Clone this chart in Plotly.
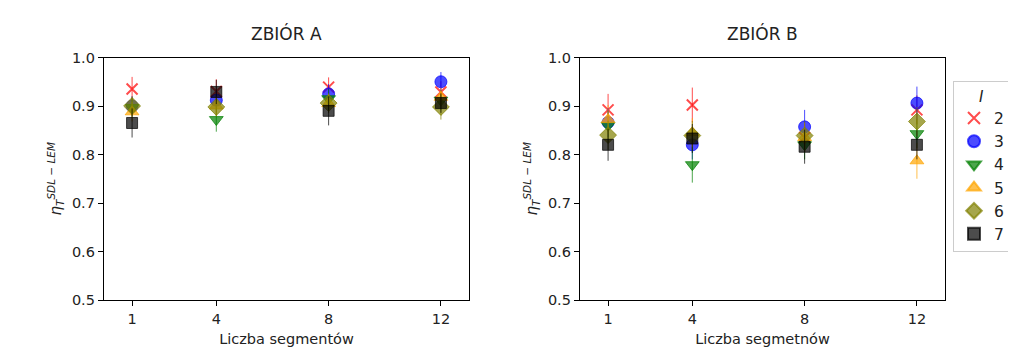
import plotly.graph_objects as go

segments = [1, 4, 8, 12]
series_I = ["2", "3", "4", "5", "6", "7"]

# ZBIÓR A values per I (x = 1, 4, 8, 12)
A_vals = {
    "2": [0.935, 0.930, 0.939, 0.929],
    "3": [0.900, 0.912, 0.925, 0.950],
    "4": [0.897, 0.872, 0.915, 0.912],
    "5": [0.888, 0.900, 0.905, 0.918],
    "6": [0.900, 0.898, 0.906, 0.898],
    "7": [0.865, 0.929, 0.890, 0.906],
}
A_err = {
    "2": [0.025, 0.025, 0.020, 0.022],
    "3": [0.020, 0.020, 0.020, 0.020],
    "4": [0.020, 0.025, 0.020, 0.020],
    "5": [0.020, 0.020, 0.020, 0.020],
    "6": [0.020, 0.020, 0.020, 0.026],
    "7": [0.030, 0.025, 0.030, 0.020],
}
# ZBIÓR B
B_vals = {
    "2": [0.892, 0.902, 0.835, 0.892],
    "3": [0.866, 0.820, 0.857, 0.906],
    "4": [0.860, 0.779, 0.820, 0.843],
    "5": [0.872, 0.845, 0.835, 0.787],
    "6": [0.840, 0.839, 0.839, 0.868],
    "7": [0.820, 0.833, 0.816, 0.820],
}
B_err = {
    "2": [0.033, 0.036, 0.030, 0.030],
    "3": [0.030, 0.030, 0.035, 0.034],
    "4": [0.030, 0.037, 0.030, 0.030],
    "5": [0.030, 0.030, 0.030, 0.037],
    "6": [0.030, 0.030, 0.030, 0.030],
    "7": [0.033, 0.030, 0.035, 0.030],
}

colors = {"2": "255,0,0", "3": "0,0,255", "4": "0,128,0",
          "5": "255,165,0", "6": "128,128,0", "7": "0,0,0"}
symbols = {"2": "x-thin", "3": "circle", "4": "triangle-down",
           "5": "triangle-up", "6": "diamond", "7": "square"}
sizes = {"2": 11, "3": 12, "4": 12, "5": 12, "6": 13, "7": 11}
alpha = 0.7

fig = go.Figure()
font = "DejaVu Sans, sans-serif"

for panel, (vals, errs, xa, ya) in enumerate([(A_vals, A_err, "x", "y"),
                                             (B_vals, B_err, "x2", "y2")]):
    for s in series_I:
        c = colors[s]
        if s == "2":
            marker = dict(symbol=symbols[s], size=sizes[s], color=f"rgba({c},{alpha})",
                          line=dict(color=f"rgba({c},{alpha})", width=2))
        else:
            marker = dict(symbol=symbols[s], size=sizes[s], color=f"rgba({c},{alpha})",
                          line=dict(color=f"rgba({c},{alpha})", width=1))
        fig.add_trace(go.Scatter(
            x=segments, y=vals[s], mode="markers", name=s,
            xaxis=xa, yaxis=ya, marker=marker,
            error_y=dict(type="data", array=errs[s], visible=True,
                         color=f"rgba({c},{alpha})", thickness=1, width=0),
            showlegend=(panel == 1),
        ))

axis_common = dict(showline=True, linecolor="black", linewidth=1.3, mirror=True,
                   ticks="outside", ticklen=5, tickwidth=1, tickcolor="black",
                   showgrid=False, zeroline=False,
                   tickfont=dict(family=font, size=14.5, color="#222"))

ytitle = "<i>η</i><sub><i>T</i></sub><sup><i>SDL − LEM</i></sup>"

fig.update_layout(
    width=1016, height=356,
    margin=dict(l=0, r=0, t=0, b=0, autoexpand=False),
    plot_bgcolor="white", paper_bgcolor="white",
    font=dict(family=font, color="#222"),
    xaxis=dict(domain=[96/1016, 461/1016], range=[0, 13], tickvals=segments,
               title=dict(text="Liczba segmentów", font=dict(size=14.5), standoff=8),
               anchor="y", **axis_common),
    yaxis=dict(domain=[1-292/356, 1-49.5/356], range=[0.5, 1.0],
               tickvals=[0.5, 0.6, 0.7, 0.8, 0.9, 1.0], ticktext=["0.5", "0.6", "0.7", "0.8", "0.9", "1.0"],
               title=dict(text=ytitle, font=dict(size=15), standoff=6),
               anchor="x", **axis_common),
    xaxis2=dict(domain=[572/1016, 937/1016], range=[0, 13], tickvals=segments,
                title=dict(text="Liczba segmetnów", font=dict(size=14.5), standoff=8),
                anchor="y2", **axis_common),
    yaxis2=dict(domain=[1-292/356, 1-49.5/356], range=[0.5, 1.0],
                tickvals=[0.5, 0.6, 0.7, 0.8, 0.9, 1.0], ticktext=["0.5", "0.6", "0.7", "0.8", "0.9", "1.0"],
                title=dict(text=ytitle, font=dict(size=15), standoff=6),
                anchor="x2", **axis_common),
    legend=dict(xref="container", yref="container", x=945/1016, y=1-73/356,
                xanchor="left", yanchor="top", tracegroupgap=0,
                bordercolor="#cccccc", borderwidth=1, bgcolor="white",
                title=dict(text="<i>I</i>", side="top center", font=dict(size=15)),
                font=dict(size=15.5, family=font), itemsizing="constant", itemwidth=30),
    annotations=[
        dict(text="ZBIÓR A", x=(96+461)/2/1016, y=1-25/356, xref="paper", yref="paper",
             showarrow=False, font=dict(size=17, family=font, color="#222"),
             xanchor="center", yanchor="middle"),
        dict(text="ZBIÓR B", x=(572+937)/2/1016, y=1-25/356, xref="paper", yref="paper",
             showarrow=False, font=dict(size=17, family=font, color="#222"),
             xanchor="center", yanchor="middle"),
    ],
)

fig.write_html("out.html")
